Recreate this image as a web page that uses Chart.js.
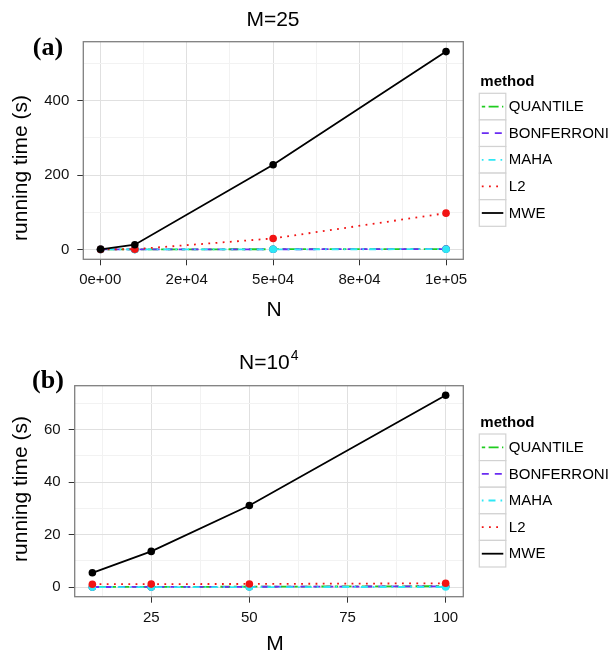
<!DOCTYPE html>
<html>
<head>
<meta charset="utf-8">
<script src="https://cdn.jsdelivr.net/npm/chart.js@4"></script>
<style>
  body { margin: 0; background: #fff; width: 611px; height: 653px; overflow: hidden; position: relative;
         font-family: "Liberation Sans", Arial, sans-serif; color: #000; }
  canvas { position: absolute; left: 0; }
  .t { position: absolute; white-space: nowrap; line-height: 1; }
  .c { transform: translate(-50%, -50%); }
  .ttl { font-size: 21px; }
  .ax { font-size: 21px; }
  .yl { transform: translate(-50%, -50%) rotate(-90deg); }
  .tag { font-family: "Liberation Serif", "Times New Roman", serif; font-weight: bold; font-size: 26px; }
  .sup { font-size: 14px; position: relative; top: -9px; margin-left: 1px; }
</style>
</head>
<body>
<canvas id="panelA" width="611" height="330" style="top:0"></canvas>
<canvas id="panelB" width="611" height="323" style="top:330px"></canvas>

<div class="t ttl c" style="left:273px;top:18px">M=25</div>
<div class="t tag c" style="left:48px;top:47px">(a)</div>
<div class="t ax yl" style="left:19px;top:168px">running time (s)</div>
<div class="t ax c" style="left:274px;top:308px">N</div>

<div class="t ttl" style="left:239px;top:351px">N=10<span class="sup">4</span></div>
<div class="t tag c" style="left:48px;top:380px">(b)</div>
<div class="t ax yl" style="left:19px;top:489px">running time (s)</div>
<div class="t ax c" style="left:275px;top:642px">M</div>

<script>
// Methods and their line styles
const methods = ['QUANTILE', 'BONFERRONI', 'MAHA', 'L2', 'MWE'];
const methodColors = ['#1fcc1f', '#6a2cf2', '#2ee8f5', '#f21414', '#000000'];
const methodDashes = [[3.4, 3.4, 10, 3.4], [7, 6], [1.7, 5, 7, 5], [1.8, 5.4], []];

// (a) running time vs N, with M = 25
const nValues = [100, 10000, 50000, 100000];
const quantileByN = [0.02, 0.1, 0.5, 1.0];
const bonferroniByN = [0.01, 0.08, 0.4, 0.8];
const mahaByN = [0.01, 0.05, 0.3, 0.6];
const l2ByN = [0.05, 0.6, 29.5, 97.5];
const mweByN = [0.3, 12.6, 227.5, 532];

const nTicks = [0, 25000, 50000, 75000, 100000];
const nTickLabels = ['0e+00', '2e+04', '5e+04', '8e+04', '1e+05'];
const nMinorTicks = [12500, 37500, 62500, 87500];
const timeTicksA = [0, 200, 400];
const timeMinorA = [100, 300, 500];

// (b) running time vs M, with N = 10^4
const mValues = [10, 25, 50, 100];
const quantileByM = [0.05, 0.08, 0.15, 0.35];
const bonferroniByM = [0.04, 0.07, 0.12, 0.3];
const mahaByM = [0.0, 0.01, 0.02, 0.05];
const l2ByM = [1.1, 1.15, 1.2, 1.45];
const mweByM = [5.45, 13.6, 31.1, 73.1];

const mTicks = [25, 50, 75, 100];
const mMinorTicks = [12.5, 37.5, 62.5, 87.5];
const timeTicksB = [0, 20, 40, 60];
const timeMinorB = [10, 30, 50, 70];

const FONT = 'Liberation Sans';

// padded limits, 5% of the data range on each side
function expandRange(values) {
  const lo = Math.min(...values), hi = Math.max(...values);
  const pad = (hi - lo) * 0.05;
  return { min: lo - pad, max: hi + pad };
}

function makeDatasets(xs, series) {
  return series.map((ys, i) => ({
    label: methods[i],
    data: xs.map((x, j) => ({ x: x, y: ys[j] })),
    borderColor: methodColors[i],
    backgroundColor: methodColors[i],
    borderDash: methodDashes[i],
    borderWidth: 1.8,
    pointRadius: 3.8,
    pointBorderWidth: 0,
    pointBackgroundColor: methodColors[i],
    tension: 0,
    order: series.length - 1 - i
  }));
}

function makeScale(range, majors, minors, labelFor, pos, fixedSize, labelPad) {
  const majorSet = new Set(majors);
  return {
    type: 'linear',
    position: pos,
    min: range.min,
    max: range.max,
    afterBuildTicks(scale) {
      scale.ticks = majors.concat(minors).sort((a, b) => a - b).map(v => ({ value: v }));
    },
    afterFit(scale) {
      if (pos === 'left') scale.width = fixedSize; else scale.height = fixedSize;
    },
    ticks: {
      autoSkip: false,
      maxRotation: 0,
      padding: labelPad,
      color: '#111111',
      font: { family: FONT, size: 15 },
      callback(v) { return majorSet.has(v) ? labelFor(v) : ''; }
    },
    grid: {
      color: ctx => (ctx.tick && majorSet.has(ctx.tick.value)) ? '#e0e0e0' : '#f2f2f2',
      tickColor: ctx => (ctx.tick && majorSet.has(ctx.tick.value)) ? '#333333' : 'rgba(0,0,0,0)',
      tickLength: 6,
      lineWidth: 1
    },
    border: { display: false }
  };
}

// panel frame and the "method" key box beside it
const panelFrame = {
  id: 'panelFrame',
  afterDraw(chart) {
    const { ctx, chartArea: a } = chart;
    ctx.save();
    ctx.strokeStyle = '#7f7f7f';
    ctx.lineWidth = 1.3;
    ctx.strokeRect(a.left, a.top, a.right - a.left, a.bottom - a.top);

    const cy = (a.top + a.bottom) / 2;
    const boxX = a.right + 16, boxW = 26.5, rowH = 26.6;
    const top = cy - 57.2;
    ctx.fillStyle = '#000';
    ctx.font = 'bold 15px "' + FONT + '"';
    ctx.textBaseline = 'middle';
    ctx.textAlign = 'left';
    ctx.fillText('method', boxX + 1, cy - 68.2);

    chart.data.datasets.forEach((ds, i) => {
      const y0 = top + i * rowH;
      ctx.fillStyle = '#ffffff';
      ctx.fillRect(boxX, y0, boxW, rowH);
      ctx.strokeStyle = '#d2d2d2';
      ctx.lineWidth = 1.2;
      ctx.setLineDash([]);
      ctx.strokeRect(boxX, y0, boxW, rowH);

      ctx.strokeStyle = ds.borderColor;
      ctx.lineWidth = ds.borderWidth;
      ctx.setLineDash(ds.borderDash);
      ctx.beginPath();
      ctx.moveTo(boxX + 2.5, y0 + rowH / 2);
      ctx.lineTo(boxX + boxW - 2.5, y0 + rowH / 2);
      ctx.stroke();

      ctx.setLineDash([]);
      ctx.fillStyle = '#000';
      ctx.font = '15px "' + FONT + '"';
      ctx.fillText(ds.label, boxX + 29.5, y0 + rowH / 2 + 0.5);
    });
    ctx.restore();
  }
};

function buildChart(canvasId, xs, series, xScale, yScale, padTop) {
  return new Chart(document.getElementById(canvasId), {
    type: 'line',
    data: { datasets: makeDatasets(xs, series) },
    options: {
      responsive: false,
      devicePixelRatio: 1,
      animation: false,
      events: [],
      layout: { padding: { left: 0, right: 147.7, top: padTop, bottom: 0 } },
      plugins: { legend: { display: false }, title: { display: false }, tooltip: { enabled: false } },
      scales: { x: xScale, y: yScale }
    },
    plugins: [panelFrame]
  });
}

// (a)
const seriesA = [quantileByN, bonferroniByN, mahaByN, l2ByN, mweByN];
buildChart('panelA', nValues, seriesA,
  makeScale(expandRange(nValues), nTicks, nMinorTicks, v => nTickLabels[nTicks.indexOf(v)], 'bottom', 70.7, 6),
  makeScale(expandRange(seriesA.flat()), timeTicksA, timeMinorA, v => String(v), 'left', 83.3, 8),
  41.7);

// (b)
const seriesB = [quantileByM, bonferroniByM, mahaByM, l2ByM, mweByM];
buildChart('panelB', mValues, seriesB,
  makeScale(expandRange(mValues), mTicks, mMinorTicks, v => String(v), 'bottom', 56.3, 6),
  makeScale(expandRange(seriesB.flat()), timeTicksB, timeMinorB, v => String(v), 'left', 74.7, 8),
  55.7);
</script>
</body>
</html>
